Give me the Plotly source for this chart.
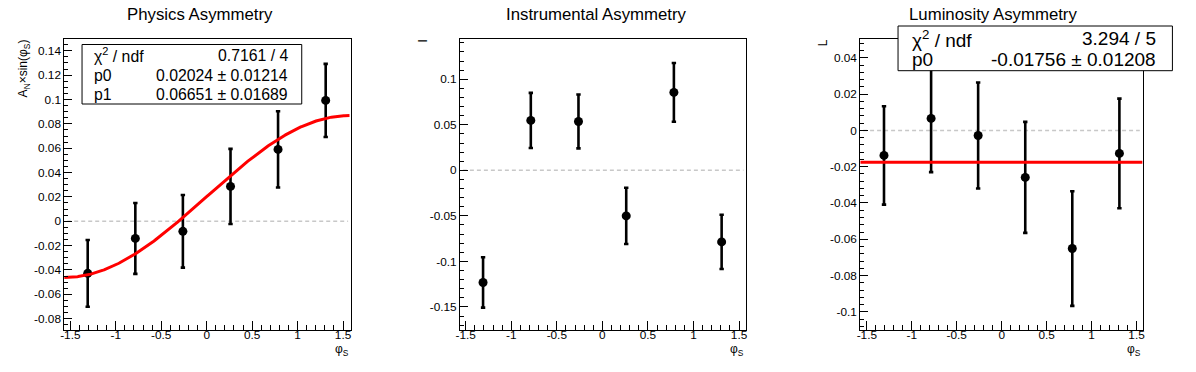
import numpy as np
import plotly.graph_objects as go

W, H = 1196, 372

# ---------------- data ----------------
phi_s = [-1.309, -0.785, -0.262, 0.262, 0.785, 1.309]

phys_y = [-0.0428, -0.0141, -0.0083, 0.0286, 0.0590, 0.0992]
phys_err = [0.0274, 0.0291, 0.0298, 0.0308, 0.0313, 0.0300]

inst_y = [-0.1231, 0.0548, 0.0537, -0.0500, 0.0856, -0.0786]
inst_err = [0.0276, 0.0303, 0.0296, 0.0309, 0.0322, 0.0298]

lumi_y = [-0.0138, 0.0066, -0.0028, -0.0259, -0.0651, -0.0127]
lumi_err = [0.0271, 0.0296, 0.0292, 0.0306, 0.0316, 0.0302]

phys_fit = {"chi2": "0.7161 / 4", "p0": 0.02024, "p0_err": 0.01214, "p1": 0.06651, "p1_err": 0.01689}
lumi_fit = {"chi2": "3.294 / 5", "p0": -0.01756, "p0_err": 0.01208}

titles = ["Physics Asymmetry", "Instrumental Asymmetry", "Luminosity Asymmetry"]
ytitles = ["A<sub>N</sub>×sin(φ<sub>S</sub>)", "I", "L"]

x_ticks = [-1.5, -1, -0.5, 0, 0.5, 1, 1.5]
y_ticks = [
    [-0.08, -0.06, -0.04, -0.02, 0, 0.02, 0.04, 0.06, 0.08, 0.1, 0.12, 0.14],
    [-0.15, -0.1, -0.05, 0, 0.05, 0.1],
    [-0.1, -0.08, -0.06, -0.04, -0.02, 0, 0.02, 0.04],
]

# ---------------- layout geometry (pixels) ----------------
def px(x):
    return x / W

def py(y):
    return 1 - y / H

FONT = "Liberation Sans, Arial, Helvetica, sans-serif"

panels = [
    dict(x0=60.7, x1=349.0, xr=[-1.566, 1.587], yr=[-0.0893, 0.1494], ymin=0.005),
    dict(x0=458.7, x1=746.7, xr=[-1.562, 1.580], yr=[-0.1753, 0.1439], ymin=0.01),
    dict(x0=861.3, x1=1145.3, xr=[-1.573, 1.567], yr=[-0.110, 0.0502], ymin=0.004),
]
Y0, Y1 = 39.3, 330.0
title_cx = [197, 596, 994.7]

fig = go.Figure()

series = [(phys_y, phys_err), (inst_y, inst_err), (lumi_y, lumi_err)]

def fmt(v):
    return f"{v:g}"

layout = dict(
    width=W, height=H,
    margin=dict(l=0, r=0, t=0, b=0),
    paper_bgcolor="white", plot_bgcolor="white",
    showlegend=False,
    font=dict(family=FONT, color="black"),
)

shapes = []
annotations = []

for i, p in enumerate(panels):
    n = "" if i == 0 else str(i + 1)
    xa, ya = "x" + n, "y" + n
    layout["xaxis" + n] = dict(
        domain=[px(p["x0"]), px(p["x1"])], range=p["xr"], anchor=ya,
        showline=True, linecolor="black", linewidth=1, mirror=True,
        showgrid=False, zeroline=False,
        tickmode="array", tickvals=x_ticks, ticktext=[fmt(v) for v in x_ticks],
        ticks="inside", ticklen=9, tickwidth=1, tickcolor="black",
        ticklabelstandoff=-6,
        tickfont=dict(family=FONT, size=11.8, color="black"),
        minor=dict(ticks="inside", ticklen=5, tickwidth=1, tickcolor="black",
                   tickmode="linear", tick0=0, dtick=0.1, showgrid=False),
    )
    layout["yaxis" + n] = dict(
        domain=[py(Y1), py(Y0)], range=p["yr"], anchor=xa,
        showline=True, linecolor="black", linewidth=1, mirror=True,
        showgrid=False, zeroline=False,
        tickmode="array", tickvals=y_ticks[i], ticktext=[fmt(v) for v in y_ticks[i]],
        ticks="inside", ticklen=8, tickwidth=1, tickcolor="black",
        tickfont=dict(family=FONT, size=11.8, color="black"),
        minor=dict(ticks="inside", ticklen=4, tickwidth=1, tickcolor="black",
                   tickmode="linear", tick0=0, dtick=p["ymin"], showgrid=False),
    )
    # zero dashed reference line
    shapes.append(dict(type="line", xref=xa + " domain", yref=ya, x0=0.01, x1=0.99, y0=0, y1=0,
                       line=dict(color="#c8c8c8", width=1.5, dash="4px,3px"), layer="below"))
    yv, ev = series[i]
    fig.add_trace(go.Scatter(
        x=phi_s, y=yv, mode="markers", xaxis=xa, yaxis=ya,
        marker=dict(symbol="circle", size=9, color="black"),
        error_y=dict(type="data", array=ev, visible=True, color="black", thickness=2.6, width=2.2),
        cliponaxis=True,
    ))
    # title
    annotations.append(dict(text=titles[i], xref="paper", yref="paper",
                            x=px(title_cx[i]), y=py(15),
                            xanchor="center", yanchor="middle", showarrow=False,
                            font=dict(family=FONT, size=16.8, color="black")))
    # x-axis title
    annotations.append(dict(text="φ<sub>S</sub>", xref="paper", yref="paper",
                            x=px(p["x1"]), y=py(340), xanchor="right", yanchor="top",
                            showarrow=False, font=dict(family=FONT, size=12, color="black")))

# y-axis titles (rotated)
ytitle_x = [20, 421, 824]
for i in range(3):
    annotations.append(dict(text=ytitles[i], xref="paper", yref="paper",
                            x=px(ytitle_x[i]), y=py(37.5), xanchor="center", yanchor="top",
                            textangle=-90, showarrow=False,
                            font=dict(family=FONT, size=12, color="black")))

# fits
xf = np.linspace(-np.pi / 2, np.pi / 2, 300)
fig.add_trace(go.Scatter(x=xf, y=phys_fit["p0"] + phys_fit["p1"] * np.sin(xf), mode="lines",
                         xaxis="x", yaxis="y", line=dict(color="#ff0000", width=3)))
fig.add_trace(go.Scatter(x=panels[2]["xr"], y=[lumi_fit["p0"]] * 2, mode="lines",
                         xaxis="x3", yaxis="y3", line=dict(color="#ff0000", width=3)))

# stat boxes
def stat_box(x0, x1, y0, y1, rows, lx, rx, ys, size):
    shapes.append(dict(type="rect", xref="paper", yref="paper",
                       x0=px(x0), x1=px(x1), y0=py(y1), y1=py(y0),
                       line=dict(color="black", width=1), fillcolor="white", layer="above"))
    for (lab, val), yy in zip(rows, ys):
        annotations.append(dict(text=lab, xref="paper", yref="paper", x=px(lx), y=py(yy),
                                xanchor="left", yanchor="middle", showarrow=False,
                                font=dict(family=FONT, size=size, color="black")))
        annotations.append(dict(text=val, xref="paper", yref="paper", x=px(rx), y=py(yy),
                                xanchor="right", yanchor="middle", showarrow=False,
                                font=dict(family=FONT, size=size, color="black")))

stat_box(78.5, 299.5, 44.5, 104.0,
         [("χ<sup>2</sup> / ndf", phys_fit["chi2"]),
          ("p0", f"{phys_fit['p0']:.5f} ± {phys_fit['p0_err']:.5f}"),
          ("p1", f"{phys_fit['p1']:.5f} ± {phys_fit['p1_err']:.5f}")],
         88.5, 287.5, [55.5, 75.5, 94.5], 15.8)

stat_box(899.3, 1175.3, 26.0, 70.7,
         [("χ<sup>2</sup> / ndf", lumi_fit["chi2"]),
          ("p0", f"{lumi_fit['p0']:.5f} ± {lumi_fit['p0_err']:.5f}")],
         911.5, 1161, [38.5, 60.0], 19)

layout["shapes"] = shapes
layout["annotations"] = annotations
fig.update_layout(**layout)

fig.write_html("out.html", config={"displayModeBar": False},
               post_script="document.body.style.margin='0';")
